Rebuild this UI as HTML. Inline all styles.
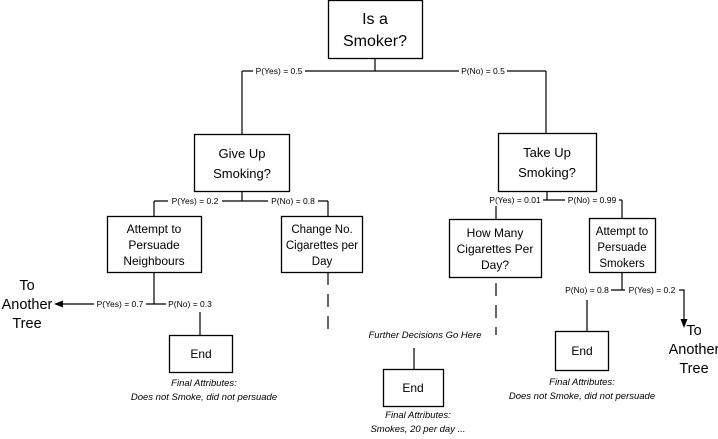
<!DOCTYPE html>
<html><head><meta charset="utf-8"><style>
html,body{margin:0;padding:0;background:#fff;}
svg{display:block;font-family:"Liberation Sans",sans-serif;}
.b{fill:#fff;stroke:#000;stroke-width:1.3;}
.l{stroke:#000;stroke-width:1.2;fill:none;}
.t{font-size:12px;text-anchor:middle;fill:#000;}
.p{font-size:8.5px;text-anchor:middle;fill:#000;}
.i{font-size:9.5px;font-style:italic;text-anchor:middle;fill:#000;}
.bg{fill:#fff;}
</style></head><body>
<svg width="718" height="439" viewBox="0 0 718 439">
<rect class="b" x="328.5" y="0.5" width="94" height="58"/>
<text class="t" style="font-size:16px" x="375" y="24">Is a</text>
<text class="t" style="font-size:16px" x="375" y="46">Smoker?</text>
<path class="l" d="M375 58V71M242 71H546M242 71V134M546 71V133"/>
<rect class="bg" x="253" y="65" width="52" height="12"/><text class="p" x="279" y="74">P(Yes) = 0.5</text>
<rect class="bg" x="459" y="65" width="48" height="12"/><text class="p" x="483" y="74">P(No) = 0.5</text>
<rect class="b" x="194.5" y="134.5" width="95" height="57"/>
<text class="t" style="font-size:13px" x="242" y="158">Give Up</text><text class="t" style="font-size:13px" x="242" y="178">Smoking?</text>
<rect class="b" x="498.5" y="133.5" width="98" height="58"/>
<text class="t" style="font-size:13px" x="547" y="157">Take Up</text><text class="t" style="font-size:13px" x="547" y="177">Smoking?</text>
<path class="l" d="M242 191V201M154 201H328M154 201V216M328 201V216"/>
<rect class="bg" x="168" y="195" width="54" height="12"/><text class="p" x="195" y="204">P(Yes) = 0.2</text>
<rect class="bg" x="268" y="195" width="50" height="12"/><text class="p" x="293" y="204">P(No) = 0.8</text>
<rect class="b" x="107.5" y="216.5" width="94" height="56"/>
<text class="t" x="154" y="233">Attempt to</text><text class="t" x="154" y="249">Persuade</text><text class="t" x="154" y="265">Neighbours</text>
<rect class="b" x="281.5" y="216.5" width="81" height="56"/>
<text class="t" style="font-size:11.5px" x="322" y="233">Change No.</text><text class="t" style="font-size:11.5px" x="322" y="249">Cigarettes per</text><text class="t" style="font-size:11.5px" x="322" y="265">Day</text>
<path class="l" d="M328 272V335" stroke-dasharray="13,9"/>
<path class="l" d="M154 272V304M62 304H200M200 312V335"/>
<polygon points="54,304 63,300.5 63,307.5" fill="#000"/>
<rect class="bg" x="94" y="298" width="52" height="12"/><text class="p" x="120" y="307">P(Yes) = 0.7</text>
<rect class="bg" x="166" y="298" width="48" height="12"/><text class="p" x="190" y="307">P(No) = 0.3</text>
<text class="t" style="font-size:14.5px" x="27" y="290">To</text>
<text class="t" style="font-size:14.5px" x="27" y="309">Another</text>
<text class="t" style="font-size:14.5px" x="27" y="328">Tree</text>
<rect class="b" x="169.5" y="335.5" width="63" height="37"/>
<text class="t" x="201" y="358">End</text>
<text class="i" x="204" y="386">Final Attributes:</text>
<text class="i" x="204" y="400">Does not Smoke, did not persuade</text>
<path class="l" d="M547 191V200M496 200H622M496 200V219M622 200V218"/>
<rect class="bg" x="487" y="194" width="56" height="12"/><text class="p" x="515" y="203">P(Yes) = 0.01</text>
<rect class="bg" x="565" y="194" width="54" height="12"/><text class="p" x="592" y="203">P(No) = 0.99</text>
<rect class="b" x="449.5" y="219.5" width="92" height="58"/>
<text class="t" x="495" y="237">How Many</text><text class="t" x="495" y="253">Cigarettes Per</text><text class="t" x="495" y="269">Day?</text>
<rect class="b" x="589.5" y="218.5" width="66" height="54"/>
<text class="t" style="font-size:11.5px" x="622" y="235">Attempt to</text><text class="t" style="font-size:11.5px" x="622" y="251">Persuade</text><text class="t" style="font-size:11.5px" x="622" y="267">Smokers</text>
<path class="l" d="M496 283V335" stroke-dasharray="13,9"/>
<text class="i" x="425" y="338">Further Decisions Go Here</text>
<path class="l" d="M414 348V369"/>
<rect class="b" x="383.5" y="369.5" width="60" height="37"/>
<text class="t" x="413" y="392">End</text>
<text class="i" x="418" y="418">Final Attributes:</text>
<text class="i" x="418" y="432">Smokes, 20 per day ...</text>
<path class="l" d="M622 272V290M586 290H684V320M587 300V331"/>
<polygon points="684,328 680.5,319 687.5,319" fill="#000"/>
<rect class="bg" x="563" y="284" width="48" height="12"/><text class="p" x="587" y="293">P(No) = 0.8</text>
<rect class="bg" x="625" y="284" width="54" height="12"/><text class="p" x="652" y="293">P(Yes) = 0.2</text>
<text class="t" style="font-size:14.5px" x="694" y="335">To</text>
<text class="t" style="font-size:14.5px" x="694" y="354">Another</text>
<text class="t" style="font-size:14.5px" x="694" y="373">Tree</text>
<rect class="b" x="555.5" y="331.5" width="53" height="39"/>
<text class="t" x="582" y="355">End</text>
<text class="i" x="582" y="385">Final Attributes:</text>
<text class="i" x="582" y="399">Does not Smoke, did not persuade</text>
</svg>
</body></html>
